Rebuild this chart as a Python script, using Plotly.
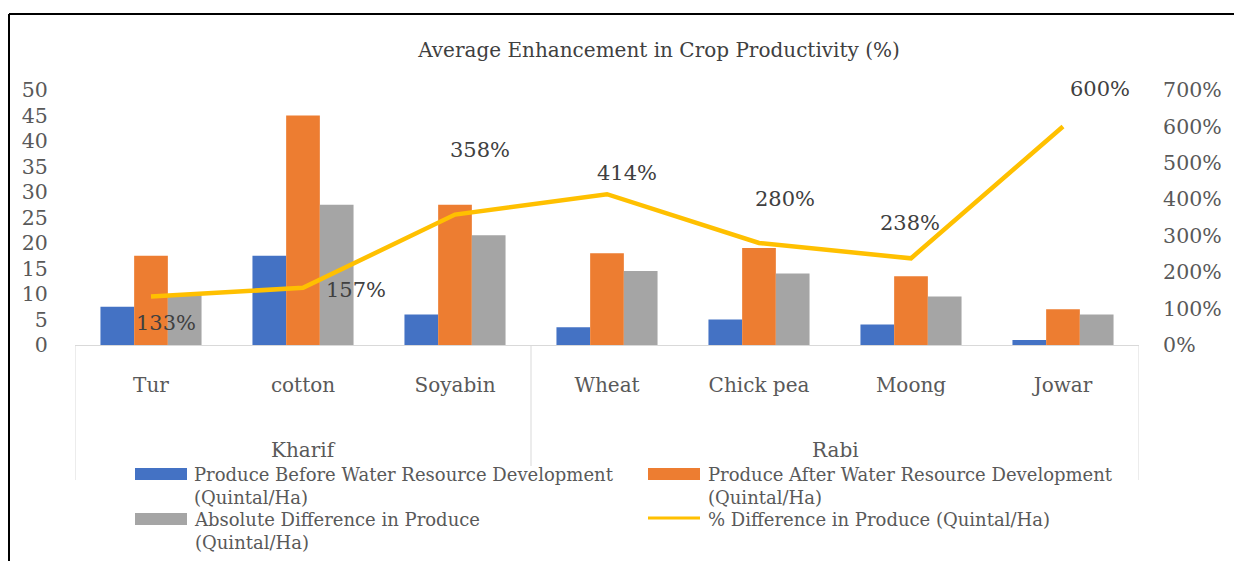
import plotly.graph_objects as go

# ---------------- data ----------------
crops = ["Tur", "cotton", "Soyabin", "Wheat", "Chick pea", "Moong", "Jowar"]
seasons = ["Kharif", "Rabi"]
before = [7.5, 17.5, 6, 3.5, 5, 4, 1]
after = [17.5, 45, 27.5, 18, 19, 13.5, 7]
abs_diff = [10, 27.5, 21.5, 14.5, 14, 9.5, 6]
pct_diff = [1.33, 1.57, 3.58, 4.14, 2.80, 2.38, 6.00]
pct_labels = ["133%", "157%", "358%", "414%", "280%", "238%", "600%"]
series_names = [
    "Produce Before Water Resource Development<br>(Quintal/Ha)",
    "Produce After Water Resource Development<br>(Quintal/Ha)",
    "Absolute Difference in Produce<br>(Quintal/Ha)",
    "% Difference in Produce (Quintal/Ha)",
]
title_text = "Average Enhancement in Crop Productivity (%)"

# ---------------- geometry helpers (screen pixels -> paper) ----------------
OFF = 8  # page body margin
W, H = 1242, 561
PLOT_L, PLOT_R, PLOT_T, PLOT_B = 75, 1139, 90, 345  # screen pixels
ML = PLOT_L - OFF
MR = W - (PLOT_R - OFF)
MT = PLOT_T - OFF
MB = H - (PLOT_B - OFF)
PW, PH = PLOT_R - PLOT_L, PLOT_B - PLOT_T


def px_x(px):
    return (px - PLOT_L) / PW


def px_y(py):
    return (PLOT_B - py) / PH


FONT = "DejaVu Serif"
TXT = "#595959"
colors = ["#4472C4", "#ED7D31", "#A5A5A5", "#FFC000"]

fig = go.Figure()
for vals, col, nm in zip([before, after, abs_diff], colors[:3], series_names[:3]):
    fig.add_trace(go.Bar(x=crops, y=vals, name=nm, marker=dict(color=col, line=dict(width=0)),
                         showlegend=False, yaxis="y"))
fig.add_trace(go.Scatter(x=crops, y=pct_diff, yaxis="y2", mode="lines", name=series_names[3],
                         line=dict(color=colors[3], width=4.5), showlegend=False))

# data labels for % line
shifts = [(15, -26), (53, -2), (25, 65), (20, 21), (26, 44), (-1, 35), (37, 37)]
annotations = []
for c, v, lab, (dx, dy) in zip(crops, pct_diff, pct_labels, shifts):
    annotations.append(dict(x=c, y=v, xref="x", yref="y2", text=lab, showarrow=False,
                            xanchor="center", yanchor="middle",
                            xshift=dx, yshift=dy, font=dict(family=FONT, size=21, color="#404040")))

# season labels
for xv, s in zip([1, 4.5], seasons):
    annotations.append(dict(x=xv, y=px_y(450), xref="x", yref="paper", text=s, showarrow=False,
                            xanchor="center", yanchor="middle",
                            font=dict(family=FONT, size=20, color=TXT)))

shapes = []
# category group dividers
for xv, yend in [(-0.5, 480), (2.5, 466), (6.5, 480)]:
    shapes.append(dict(type="line", xref="x", yref="paper", x0=xv, x1=xv, y0=0, y1=px_y(yend),
                       line=dict(color="#d9d9d9", width=1)))
# outer frame
shapes.append(dict(type="line", xref="paper", yref="paper", x0=px_x(9), x1=px_x(1260), y0=px_y(14), y1=px_y(14),
                   line=dict(color="black", width=2)))
shapes.append(dict(type="line", xref="paper", yref="paper", x0=px_x(9), x1=px_x(9), y0=px_y(14), y1=px_y(580),
                   line=dict(color="black", width=2)))

# manual legend
leg = [(135, 468, 192, 462, 0), (648, 468, 706, 462, 1), (135, 513, 192, 507, 2), (648, 513, 706, 507, 3)]
for sx, sy, tx, ty, i in leg:
    if i < 3:
        shapes.append(dict(type="rect", xref="paper", yref="paper", x0=px_x(sx), x1=px_x(sx + 52),
                           y0=px_y(sy), y1=px_y(sy + 12), fillcolor=colors[i], line=dict(width=0)))
    else:
        shapes.append(dict(type="line", xref="paper", yref="paper", x0=px_x(sx), x1=px_x(sx + 52),
                           y0=px_y(sy + 5), y1=px_y(sy + 5), line=dict(color=colors[i], width=3)))
    annotations.append(dict(x=px_x(tx), y=px_y(ty), xref="paper", yref="paper", xanchor="left",
                            yanchor="top", align="left", text=series_names[i], showarrow=False,
                            font=dict(family=FONT, size=18, color=TXT)))

fig.update_layout(
    width=W, height=H,
    margin=dict(l=ML, r=MR, t=MT, b=MB),
    paper_bgcolor="white", plot_bgcolor="white",
    barmode="group", bargap=0.335, bargroupgap=0,
    title=dict(text=title_text, x=px_x(659), xref="paper", xanchor="center", y=1 - (50 - OFF) / H,
               yanchor="middle", font=dict(family=FONT, size=20, color="#404040")),
    xaxis=dict(type="category", range=[-0.5, 6.5], showline=True, linecolor="#d9d9d9", linewidth=1,
               ticks="outside", ticklen=0, ticklabelstandoff=22, showgrid=False,
               tickfont=dict(family=FONT, size=20, color=TXT)),
    yaxis=dict(range=[0, 50], dtick=5, showgrid=False, zeroline=False, showline=False,
               ticks="outside", ticklen=0, ticklabelstandoff=22,
               tickfont=dict(family=FONT, size=20.5, color=TXT)),
    yaxis2=dict(range=[0, 7], dtick=1, tickformat=".0%", overlaying="y", side="right", showgrid=False,
                zeroline=False, showline=False, ticks="outside", ticklen=0, ticklabelstandoff=19,
                tickfont=dict(family=FONT, size=20.5, color=TXT)),
    annotations=annotations,
    shapes=shapes,
    showlegend=False,
)

fig.write_html("out.html")
